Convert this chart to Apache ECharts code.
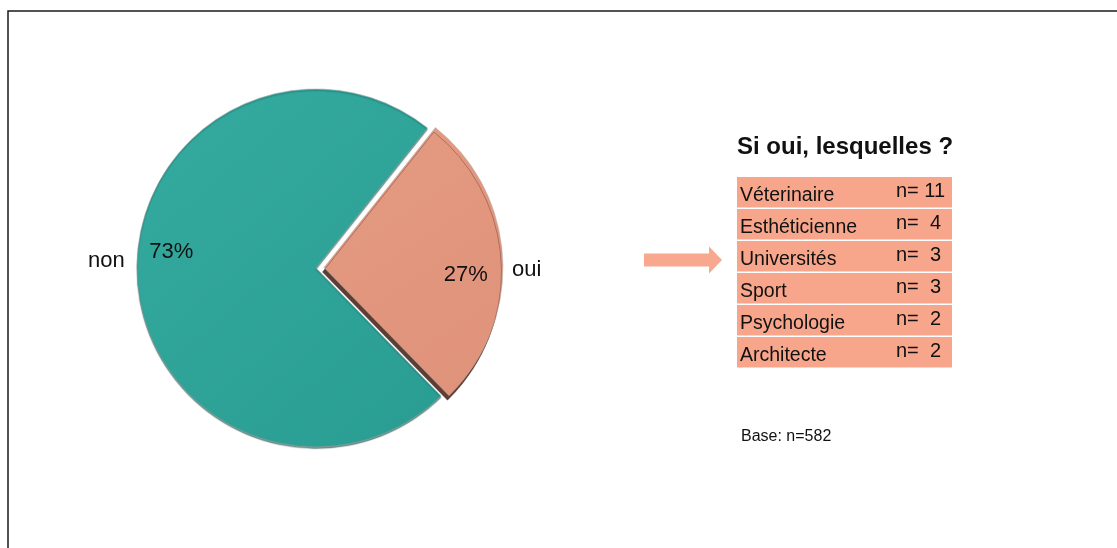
<!DOCTYPE html>
<html>
<head>
<meta charset="utf-8">
<script src="https://cdn.jsdelivr.net/npm/echarts@6/dist/echarts.min.js"></script>
<style>
  html, body { margin: 0; background: #fff; }
  #chart { width: 1117px; height: 548px; }
</style>
</head>
<body>
<div id="chart"></div>
<script>
// Pie data
const pieNames = ['oui', 'non'];
const pieValues = [27, 73];

// Table data (right side)
const tableTitle = 'Si oui, lesquelles ?';
const jobNames = ['Véterinaire', 'Esthéticienne', 'Universités', 'Sport', 'Psychologie', 'Architecte'];
const jobCounts = [11, 4, 3, 3, 2, 2];
const baseText = 'Base: n=582';

const FONT = '"Liberation Sans", Arial, Helvetica, sans-serif';
const PIE_CENTER = [316, 268];
const PIE_R = 179;

const sliceStyle = {
  oui: {
    color: new echarts.graphic.LinearGradient(0, 0, 1, 1, [
      { offset: 0, color: '#e49a82' },
      { offset: 1, color: '#e0927a' },
    ]),
    borderColor: 'rgba(175,175,175,0.55)',
    borderWidth: 0.8,
    shadowColor: '#5c3e34',
    shadowBlur: 0,
    shadowOffsetX: -1.5,
    shadowOffsetY: 4.5,
  },
  non: {
    color: new echarts.graphic.LinearGradient(0, 0, 1, 1, [
      { offset: 0, color: '#35aa9f' },
      { offset: 1, color: '#299d92' },
    ]),
    borderColor: 'rgba(150,160,160,0.7)',
    borderWidth: 0.8,
    shadowColor: 'rgba(20,70,65,0.6)',
    shadowBlur: 1,
    shadowOffsetY: 1.5,
  },
};

// label nudges so the text sits where the original had it
const pctOffset = { oui: [1, 14], non: [4, -24] };
const nameOffset = { oui: [-3, 13], non: [4, -18] };

const chart = echarts.init(document.getElementById('chart'));

// table rows built from the arrays
const TABLE_X = 737, TABLE_Y = 177, TABLE_W = 215, ROW_H = 32;
const rows = jobNames.map((name, i) => {
  const top = TABLE_Y + i * ROW_H;
  return {
    type: 'group',
    children: [
      { type: 'rect', shape: { x: TABLE_X, y: top, width: TABLE_W, height: ROW_H - 1.5 }, style: { fill: '#f8a68b' } },
      { type: 'text', style: { text: name, x: TABLE_X + 3, y: top + 19, fill: '#111', font: '19.5px ' + FONT, verticalAlign: 'middle' } },
      { type: 'text', style: { text: 'n= ' + String(jobCounts[i]).padStart(2, ' '), x: 896, y: top + 14, fill: '#111', font: '20px ' + FONT, verticalAlign: 'middle' } },
    ],
  };
});

chart.setOption({
  animation: false,
  backgroundColor: '#fff',
  graphic: [
    // frame
    { type: 'rect', shape: { x: 8, y: 11, width: 1200, height: 600 }, style: { fill: null, stroke: '#1a1a1a', lineWidth: 1.5 }, silent: true },
    // arrow
    {
      type: 'polygon',
      shape: { points: [[644, 253.5], [709, 253.5], [709, 246.5], [722, 260], [709, 273.5], [709, 266.5], [644, 266.5]] },
      style: { fill: '#f8a88e' },
    },
    { type: 'text', style: { text: tableTitle, x: 737, y: 147, fill: '#111', font: 'bold 24px ' + FONT, verticalAlign: 'middle' } },
    ...rows,
    { type: 'text', style: { text: baseText, x: 741, y: 437, fill: '#111', font: '16px ' + FONT, verticalAlign: 'middle' } },
  ],
  series: [
    {
      type: 'pie',
      center: PIE_CENTER,
      radius: PIE_R,
      startAngle: 51.5,
      clockwise: true,
      selectedMode: 'single',
      selectedOffset: 8,
      silent: true,
      label: { show: false },
      labelLine: { show: false },
      emphasis: { disabled: true },
      data: pieNames.map((name, i) => ({
        name,
        value: pieValues[i],
        selected: name === 'oui',
        itemStyle: sliceStyle[name],
        select: { itemStyle: sliceStyle[name] },
      })),
    },
    {
      // percentage labels
      type: 'pie',
      center: PIE_CENTER,
      radius: [112, 180],
      startAngle: 51.5,
      silent: true,
      itemStyle: { color: 'transparent' },
      label: { show: true, position: 'inside', formatter: '{d}%', color: '#111', fontSize: 22, fontFamily: FONT },
      labelLine: { show: false },
      emphasis: { disabled: true },
      data: pieNames.map((name, i) => ({ name, value: pieValues[i], label: { offset: pctOffset[name] } })),
    },
    {
      // category names outside the pie
      type: 'pie',
      center: PIE_CENTER,
      radius: [180, 242],
      startAngle: 51.5,
      silent: true,
      itemStyle: { color: 'transparent' },
      label: { show: true, position: 'inside', formatter: '{b}', color: '#111', fontSize: 22, fontFamily: FONT },
      labelLine: { show: false },
      emphasis: { disabled: true },
      data: pieNames.map((name, i) => ({ name, value: pieValues[i], label: { offset: nameOffset[name] } })),
    },
  ],
});

window.addEventListener('resize', () => chart.resize());
</script>
</body>
</html>
